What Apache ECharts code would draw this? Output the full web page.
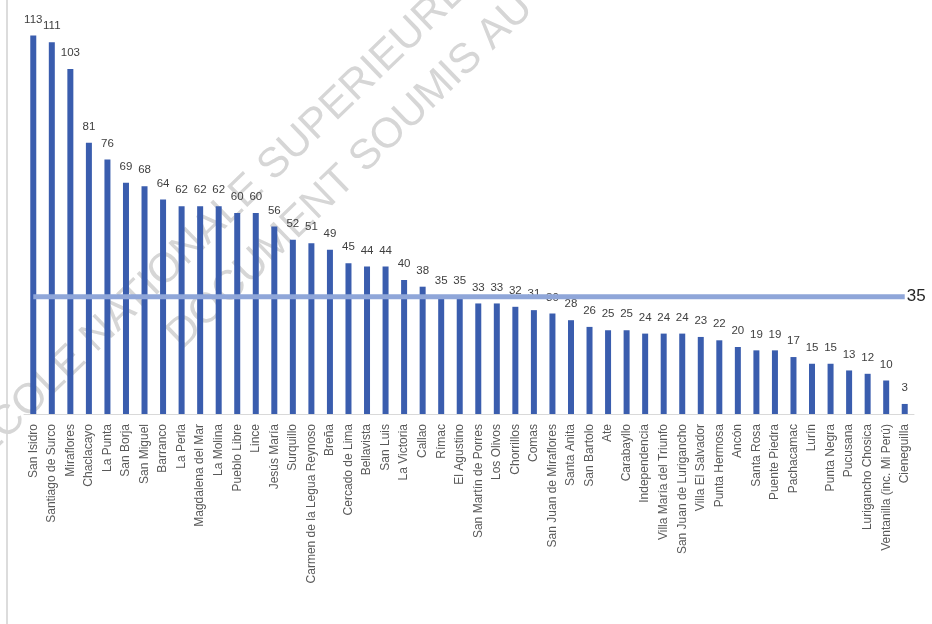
<!DOCTYPE html>
<html>
<head>
<meta charset="utf-8">
<script src="https://cdn.jsdelivr.net/npm/echarts@6/dist/echarts.min.js"></script>
<style>
html,body{margin:0;padding:0;background:#fff;}
#chart{width:932px;height:624px;}
</style>
</head>
<body>
<div id="chart"></div>
<script>
const categories = ["San Isidro","Santiago de Surco","Miraflores","Chaclacayo","La Punta","San Borja","San Miguel","Barranco","La Perla","Magdalena del Mar","La Molina","Pueblo Libre","Lince","Jesús María","Surquillo","Carmen de la Legua Reynoso","Breña","Cercado de Lima","Bellavista","San Luis","La Victoria","Callao","Rímac","El Agustino","San Martín de Porres","Los Olivos","Chorrillos","Comas","San Juan de Miraflores","Santa Anita","San Bartolo","Ate","Carabayllo","Independencia","Villa María del Triunfo","San Juan de Lurigancho","Villa El Salvador","Punta Hermosa","Ancón","Santa Rosa","Puente Piedra","Pachacamac","Lurín","Punta Negra","Pucusana","Lurigancho Chosica","Ventanilla (inc. Mi Perú)","Cieneguilla"];
const values = [113,111,103,81,76,69,68,64,62,62,62,60,60,56,52,51,49,45,44,44,40,38,35,35,33,33,32,31,30,28,26,25,25,24,24,24,23,22,20,19,19,17,15,15,13,12,10,3];
const referenceValue = 35;
const referenceLine = categories.map(() => referenceValue);
const watermarkLines = ["ECOLE NATIONALE SUPERIEURE DES", "DOCUMENT SOUMIS AU DROIT"];

const FONT = '"Liberation Sans Narrow", "Liberation Sans", Arial, sans-serif';
const WM_FONT = '42px "Liberation Sans", Arial, sans-serif';
const rot = 44 * Math.PI / 180;
const chart = echarts.init(document.getElementById('chart'), null, {renderer: 'canvas'});
chart.setOption({
  backgroundColor: '#ffffff',
  animation: false,
  grid: {left: 24, right: 18, top: 12, bottom: 210},
  xAxis: {
    type: 'category',
    data: categories,
    axisLine: {show: true, lineStyle: {color: '#d9d9d9', width: 1}},
    axisTick: {show: false},
    axisLabel: {rotate: 90, interval: 0, margin: 10, color: '#595959', fontSize: 12, fontFamily: FONT}
  },
  yAxis: {
    type: 'value', min: 0, max: 120, show: false,
    splitLine: {show: false}
  },
  series: [
    {
      type: 'bar',
      data: values,
      barWidth: 6,
      itemStyle: {color: '#3a5dae'},
      label: {show: true, position: 'top', distance: 10, color: '#404040', fontSize: 11.5, fontFamily: FONT},
      z: 2
    },
    {
      type: 'line',
      data: referenceLine,
      symbol: 'none',
      lineStyle: {color: '#8fa6d9', width: 5},
      z: 3,
      endLabel: {show: true, formatter: String(referenceValue), color: '#262626', fontSize: 17, fontFamily: FONT, distance: 2}
    }
  ],
  graphic: [
    {type: 'rect', shape: {x: 6, y: 0, width: 2, height: 624}, style: {fill: '#dcdcdc'}, z: 0},
    {type: 'text', x: -23, y: 452, rotation: rot, z: 0,
     style: {text: watermarkLines[0], fill: '#d6d6d6', font: WM_FONT, textAlign: 'left', textVerticalAlign: 'middle'}},
    {type: 'text', x: 174, y: 342, rotation: rot, z: 0,
     style: {text: watermarkLines[1], fill: '#d6d6d6', font: WM_FONT, textAlign: 'left', textVerticalAlign: 'middle'}}
  ]
});
</script>
</body>
</html>
